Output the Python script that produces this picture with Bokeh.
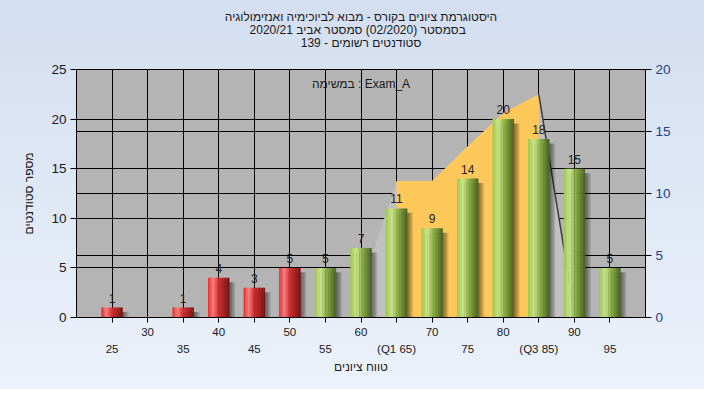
import numpy as np
from bokeh.plotting import figure
from bokeh.models import (Range1d, LinearAxis, FixedTicker, Grid, Label, Title,
                          LabelSet, ColumnDataSource)
from bokeh.core.properties import value
from bokeh.embed import file_html
from bokeh.resources import INLINE

# ---------------- data ----------------
title_lines = ["היסטוגרמת ציונים בקורס - מבוא לביוכימיה ואנזימולוגיה",
               "בסמסטר  (02/2020)  סמסטר אביב 2020/21",
               "סטודנטים רשומים - 139"]
y_title = "מספר סטודנטים"
x_title = "טווח ציונים"
task_label = "במשימה : Exam_A"

categories = [25, 30, 35, 40, 45, 50, 55, 60, 65, 70, 75, 80, 85, 90, 95]
counts = [1, 0, 1, 4, 3, 5, 5, 7, 11, 9, 14, 20, 18, 15, 5]
tick_labels = ["25", "30", "35", "40", "45", "50", "55", "60", "(Q1 65)",
               "70", "75", "80", "(Q3 85)", "90", "95"]
curve_x = [60, 65, 70, 75, 80, 85, 90]
curve_y = [2.3, 11, 11, 13.8, 16.5, 18, 0.4]
q1, q3 = 65, 85
pass_mark = 55
left_ticks = [0, 5, 10, 15, 20, 25]
right_ticks = [0, 5, 10, 15, 20]
x_start, x_end = 20, 100
left_max, right_max = 25, 20

FONT = "Liberation Sans"
TXT = "#1a1a1a"

p = figure(width=704, height=389, output_backend="svg", toolbar_location=None,
           x_range=Range1d(x_start, x_end), y_range=Range1d(0, left_max),
           min_border_left=76, min_border_right=59, min_border_top=69,
           min_border_bottom=72, background_fill_color="#b4b4b4",
           border_fill_color=None, outline_line_color="black")
p.styles = {"background": "linear-gradient(to bottom, #d3def0, #ecf2fb)"}
p.extra_y_ranges = {"right": Range1d(0, right_max)}

# ---------------- title (one Title per line, stacked upward from the frame) ----------------
p.add_layout(Title(text=" ", text_font_size="12px", standoff=4.5), "above")
for txt in reversed(title_lines):
    p.add_layout(Title(text=txt, align="center", text_font=FONT, text_font_size="12px",
                       text_font_style="normal", text_color=TXT, standoff=-3.5), "above")

# ---------------- axes ----------------
row1 = {c: (lab if i % 2 == 1 else "") for i, (c, lab) in enumerate(zip(categories, tick_labels))}
row2 = {c: (lab if i % 2 == 0 else "") for i, (c, lab) in enumerate(zip(categories, tick_labels))}

xa = p.xaxis[0]
xa.ticker = FixedTicker(ticks=categories)
xa.major_label_overrides = row1
xa.minor_tick_line_color = None
xa.major_tick_out = 5
xa.major_tick_in = 0
xa.major_label_standoff = 5
xa.major_label_text_font = FONT
xa.major_label_text_font_size = "11.5px"
xa.major_label_text_color = TXT
xa.axis_line_color = "black"

xa2 = LinearAxis(ticker=FixedTicker(ticks=categories), major_label_overrides=row2,
                 axis_line_color=None, major_tick_line_color=None,
                 minor_tick_line_color=None, major_tick_out=0, major_tick_in=0,
                 major_label_standoff=4, major_label_text_font=FONT,
                 major_label_text_font_size="11.5px", major_label_text_color=TXT,
                 axis_label=x_title, axis_label_text_font=FONT,
                 axis_label_text_font_size="12px", axis_label_text_font_style="normal",
                 axis_label_text_color=TXT, axis_label_standoff=2)
p.add_layout(xa2, "below")

ya = p.yaxis[0]
ya.ticker = FixedTicker(ticks=left_ticks)
ya.minor_tick_line_color = None
ya.major_tick_out = 6
ya.major_tick_in = 0
ya.major_label_standoff = 4
ya.major_label_text_font = FONT
ya.major_label_text_font_size = "13.5px"
ya.major_label_text_color = TXT
ya.axis_label = y_title
ya.axis_label_text_font = FONT
ya.axis_label_text_font_size = "12px"
ya.axis_label_text_font_style = "normal"
ya.axis_label_text_color = TXT
ya.axis_label_standoff = 12

ra = LinearAxis(y_range_name="right", ticker=FixedTicker(ticks=right_ticks),
                minor_tick_line_color=None, major_tick_out=6, major_tick_in=0,
                major_label_standoff=4, major_label_text_font=FONT,
                major_label_text_font_size="13.5px", major_label_text_color="#1c3f8c")
p.add_layout(ra, "right")

# ---------------- grids ----------------
p.xgrid.ticker = FixedTicker(ticks=categories)
p.xgrid.grid_line_color = "black"
p.ygrid.ticker = FixedTicker(ticks=left_ticks)
p.ygrid.grid_line_color = "black"
p.add_layout(Grid(dimension=1, ticker=FixedTicker(ticks=right_ticks),
                  y_range_name="right", grid_line_color="black"))

# ---------------- curve areas ----------------
cx = np.array(curve_x, dtype=float)
cy = np.array(curve_y, dtype=float)
p.varea(x=cx, y1=0, y2=cy, y_range_name="right", fill_color="#c0c0c0")
m = (cx >= q1) & (cx <= q3)
p.varea(x=cx[m], y1=0, y2=cy[m], y_range_name="right", fill_color="#ffc85a")
m2 = cx >= q3
p.line(x=cx[m2], y=cy[m2], y_range_name="right", line_color="#3c3c3c", line_width=1.5)

# ---------------- bars ----------------
cat = np.array(categories, dtype=float)
cnt = np.array(counts, dtype=float)
nz = cnt > 0
w = 3.0

for k in range(1, 5):
    p.vbar(x=cat[nz] + 0.2 * k, width=w, top=cnt[nz] - 0.45, bottom=0,
           fill_color="black", fill_alpha=0.13, line_color=None)

green_stops = [(0.0, (155, 200, 70)), (0.28, (205, 230, 145)), (0.55, (140, 178, 70)),
               (1.0, (72, 96, 34))]
red_stops = [(0.0, (228, 40, 40)), (0.25, (255, 125, 125)), (0.5, (212, 44, 44)),
             (1.0, (118, 18, 18))]


def interp(stops, t):
    ts = [s[0] for s in stops]
    out = []
    for ch in range(3):
        out.append(int(round(np.interp(t, ts, [s[1][ch] for s in stops]))))
    return "#%02x%02x%02x" % tuple(out)


nstrip = 14
sx, st, sc = [], [], []
for c, n in zip(cat[nz], cnt[nz]):
    stops = green_stops if c >= pass_mark else red_stops
    for i in range(nstrip):
        t = (i + 0.5) / nstrip
        sx.append(c - w / 2 + t * w)
        st.append(n)
        sc.append(interp(stops, t))
src = ColumnDataSource(dict(x=sx, top=st, color=sc))
p.vbar(x="x", top="top", bottom=0, width=w / nstrip + 0.03, fill_color="color",
       line_color=None, source=src)

# ---------------- labels ----------------
lab_src = ColumnDataSource(dict(x=cat[nz], y=cnt[nz],
                                t=[str(int(v)) for v in cnt[nz]]))
p.add_layout(LabelSet(x="x", y="y", text="t", source=lab_src, y_offset=5,
                      text_align="center", text_baseline="bottom",
                      text_font=value(FONT), text_font_size=value("12px"),
                      text_color="#222222"))

p.add_layout(Label(x=(x_start + x_end) / 2, y=left_max, y_offset=-14.5, text=task_label,
                   text_align="center", text_baseline="middle", text_font=FONT,
                   text_font_size="12px", text_color=TXT))

open("out.html", "w").write(file_html(p, INLINE))
